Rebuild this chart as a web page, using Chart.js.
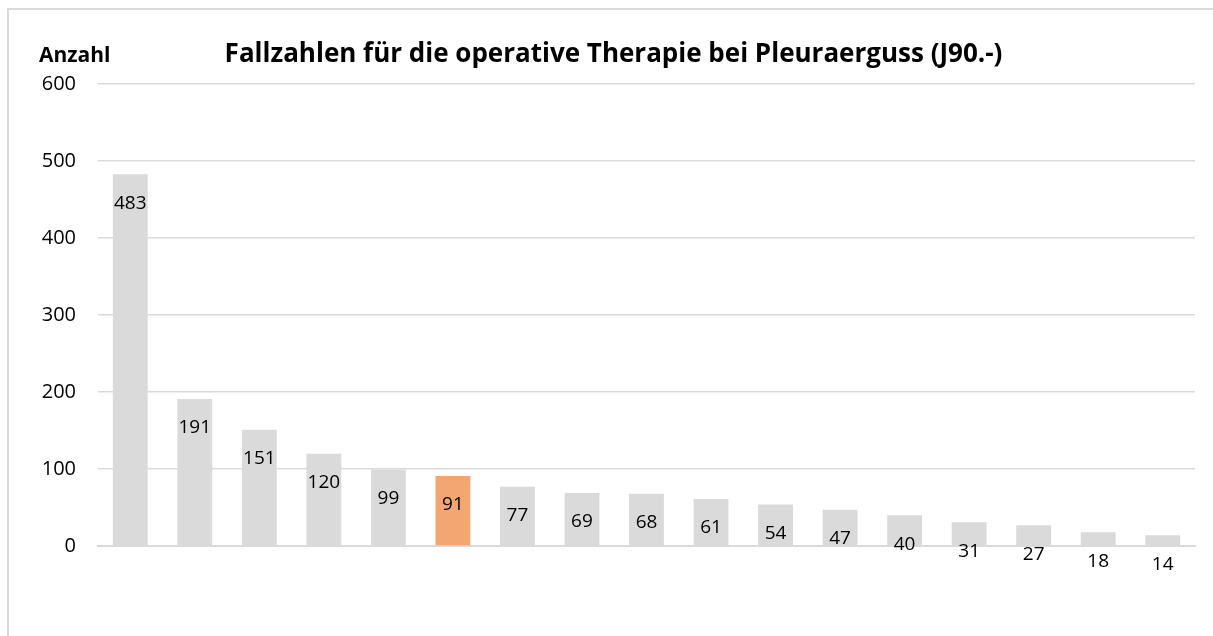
<!DOCTYPE html>
<html>
<head>
<meta charset="utf-8">
<script src="https://cdn.jsdelivr.net/npm/chart.js@4/dist/chart.umd.min.js"></script>
<style>
  html, body { margin: 0; padding: 0; background: #fff; overflow: hidden; }
  #wrap { position: absolute; left: 0; top: 0; width: 1213px; height: 636px; }
  #frame {
    position: absolute; left: 7px; top: 8px; width: 1220px; height: 640px;
    border-left: 2px solid #d9d9d9; border-top: 2px solid #d9d9d9;
  }
</style>
</head>
<body>
<div id="wrap">
  <div id="frame"></div>
  <canvas id="faelle" width="1213" height="636"></canvas>
</div>
<script>
const categories = ['K1', 'K2', 'K3', 'K4', 'K5', 'K6', 'K7', 'K8', 'K9',
                    'K10', 'K11', 'K12', 'K13', 'K14', 'K15', 'K16', 'K17'];
const fallzahlen = [483, 191, 151, 120, 99, 91, 77, 69, 68, 61, 54, 47, 40, 31, 27, 18, 14];
const highlight = 5;
const yTicks = [0, 100, 200, 300, 400, 500, 600];

const FONT = "'Open Sans', 'Noto Sans', sans-serif";
const GREY = '#dadada';
const ORANGE = '#f4a672';

// value labels sit a fixed distance below the top of each bar
const barLabels = {
  id: 'barLabels',
  afterDatasetsDraw(chart) {
    const ctx = chart.ctx;
    const meta = chart.getDatasetMeta(0);
    ctx.save();
    ctx.font = '19px ' + FONT;
    ctx.fillStyle = '#000';
    ctx.textAlign = 'center';
    ctx.textBaseline = 'middle';
    meta.data.forEach((bar, i) => {
      ctx.fillText(String(fallzahlen[i]), bar.x, bar.y + 29);
    });
    ctx.restore();
  }
};

// axis caption above the value scale
const axisCaption = {
  id: 'axisCaption',
  afterDraw(chart) {
    const ctx = chart.ctx;
    ctx.save();
    ctx.font = 'bold 21px ' + FONT;
    ctx.fillStyle = '#000';
    ctx.textAlign = 'left';
    ctx.textBaseline = 'middle';
    ctx.fillText('Anzahl', 39, 56);
    ctx.restore();
  }
};

new Chart(document.getElementById('faelle'), {
  type: 'bar',
  data: {
    labels: categories,
    datasets: [{
      data: fallzahlen,
      backgroundColor: fallzahlen.map((v, i) => i === highlight ? ORANGE : GREY),
      barPercentage: 0.54,
      categoryPercentage: 1
    }]
  },
  options: {
    responsive: false,
    animation: false,
    layout: { padding: { left: 32, right: 18, top: 0, bottom: 82 } },
    plugins: {
      legend: { display: false },
      tooltip: { enabled: false },
      title: {
        display: true,
        text: 'Fallzahlen für die operative Therapie bei Pleuraerguss (J90.-)',
        font: { family: FONT, size: 26, weight: 'bold', lineHeight: 1.2 },
        color: '#000',
        padding: { top: 39, bottom: 14 }
      }
    },
    scales: {
      x: {
        ticks: { display: false },
        grid: { display: false },
        border: { display: true, color: GREY, width: 2 }
      },
      y: {
        min: 0,
        max: 600,
        afterBuildTicks(scale) { scale.ticks = yTicks.map(v => ({ value: v })); },
        ticks: {
          font: { family: FONT, size: 20 },
          color: '#000',
          padding: 22
        },
        afterFit(scale) { scale.width = 66; },
        grid: { color: GREY, lineWidth: 1.5, drawTicks: false },
        border: { display: false }
      }
    }
  },
  plugins: [barLabels, axisCaption]
});
</script>
</body>
</html>
